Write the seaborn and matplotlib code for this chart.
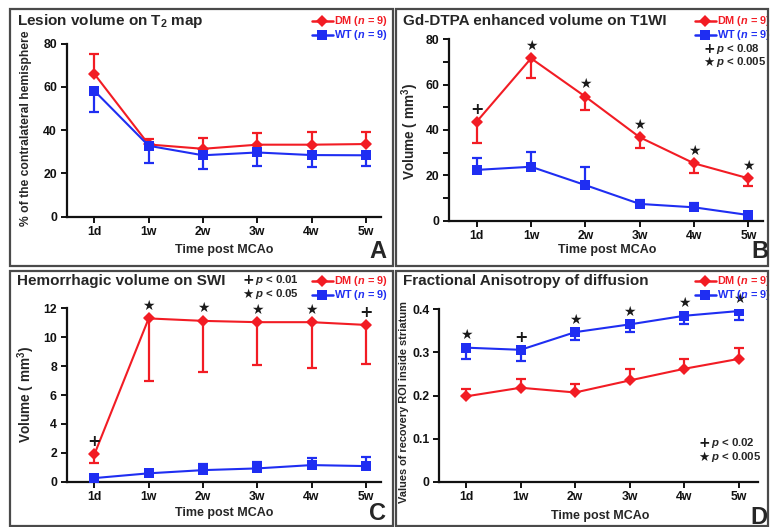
import numpy as np
import pandas as pd
import matplotlib
matplotlib.use("Agg")
import matplotlib.pyplot as plt
import seaborn as sns
from matplotlib.patches import Rectangle
from matplotlib.lines import Line2D

# Style
sns.set_style("ticks")
plt.rcParams["font.family"] = ["Liberation Sans", "DejaVu Sans"]
plt.rcParams["font.weight"] = "bold"
plt.rcParams["mathtext.fontset"] = "custom"
plt.rcParams["mathtext.rm"] = "Liberation Sans:bold"
plt.rcParams["mathtext.it"] = "Liberation Sans:italic:bold"
plt.rcParams["mathtext.bf"] = "Liberation Sans:bold"

RED = "#f21c24"
BLUE = "#1f2ef2"

# Data
time_labels = ["1d", "1w", "2w", "3w", "4w", "5w"]

# A: lesion volume on T2 map (% of contralateral hemisphere)
t2_dm = [66.0, 33.4, 31.4, 33.3, 33.3, 33.6]
t2_dm_err = [9.4, 2.6, 5.0, 5.5, 5.8, 5.4]      # drawn upward
t2_wt = [58.2, 32.8, 28.4, 29.7, 28.5, 28.4]
t2_wt_err = [9.8, 7.8, 6.2, 6.1, 5.4, 4.8]      # drawn downward

# B: Gd-DTPA enhanced volume (mm3)
gd_dm = [43.7, 71.6, 54.7, 36.8, 25.3, 18.7]
gd_dm_err = [9.6, 8.6, 5.9, 4.9, 4.4, 3.4]      # downward
gd_wt = [22.4, 23.8, 15.7, 7.4, 5.9, 2.5]
gd_wt_err = [5.4, 6.4, 7.8, 1.7, 1.8, 1.0]      # upward
gd_sig = ["+", "*", "*", "*", "*", "*"]

# C: hemorrhagic volume on SWI (mm3)
swi_dm = [1.89, 11.3, 11.13, 11.04, 11.04, 10.85]
swi_dm_err = [0.57, 4.3, 3.56, 2.96, 3.19, 2.72]  # downward
swi_wt = [0.25, 0.58, 0.80, 0.92, 1.15, 1.08]
swi_wt_err = [0.12, 0.18, 0.42, 0.42, 0.47, 0.61]  # upward
swi_sig = ["+", "*", "*", "*", "*", "+"]

# D: fractional anisotropy
fa_dm = [0.198, 0.218, 0.207, 0.235, 0.262, 0.285]
fa_dm_err = [0.018, 0.021, 0.020, 0.027, 0.022, 0.026]  # upward
fa_wt = [0.311, 0.306, 0.347, 0.365, 0.385, 0.396]
fa_wt_err = [0.026, 0.026, 0.019, 0.018, 0.020, 0.021]  # downward
fa_sig = ["*", "+", "*", "*", "*", "*"]

W, H = 770, 527
fig = plt.figure(figsize=(W / 100, H / 100), dpi=100)


def px_axes(left, right, bottom, top):
    return fig.add_axes([left / W, 1 - bottom / H, (right - left) / W, (bottom - top) / H])


def fig_text(x, y, s, **kw):
    fig.text(x / W, 1 - y / H, s, **kw)


def p_note(x, y, sym, level):
    # significance key: symbol (DejaVu has the star) + italic p text
    fig_text(x + 4, y, "\u2605" if sym == "*" else "+", fontsize=9 if sym == "*" else 10,
             fontweight="bold", family=["DejaVu Sans"], ha="center", va="center", color="#1a1a1a")
    fig_text(x + 11, y, "$p$ < " + level, fontsize=8.2, fontweight="bold", va="center")


# panel frames
for (l, t, r, b) in [(10, 9, 393, 266), (396, 9, 768, 266), (10, 271, 393, 526), (396, 271, 768, 526)]:
    fig.patches.append(Rectangle((l / W, 1 - b / H), (r - l) / W, (b - t) / H, transform=fig.transFigure,
                                 fill=False, edgecolor="#4a4a4a", linewidth=1.6))


def draw_panel(ax, dm, dm_err, dm_up, wt, wt_err, wt_up, ylim, yticks, ylabels, xlim,
               sig=None, sig_series=None):
    x = np.arange(len(time_labels))
    df = pd.DataFrame({
        "x": np.concatenate([x, x]),
        "v": list(dm) + list(wt),
        "group": ["DM"] * len(dm) + ["WT"] * len(wt),
    })
    for vals, err, up, col in [(dm, dm_err, dm_up, RED), (wt, wt_err, wt_up, BLUE)]:
        zeros = np.zeros(len(err))
        yerr = [zeros, err] if up else [err, zeros]
        ax.errorbar(x, vals, yerr=yerr, fmt="none", ecolor=col, elinewidth=1.6,
                    capsize=3.5, capthick=1.6, zorder=2)
    sns.lineplot(data=df, x="x", y="v", hue="group", style="group",
                 palette={"DM": RED, "WT": BLUE}, markers={"DM": "D", "WT": "s"},
                 dashes=False, markersize=6.5, linewidth=1.5, markeredgewidth=0,
                 legend=False, ax=ax, zorder=3)
    if sig is not None:
        for i, s in enumerate(sig):
            txt = "\u2605" if s == "*" else "+"
            ax.annotate(txt, (i, sig_series[i]), xytext=(0, 9), textcoords="offset points",
                        ha="center", va="center", fontsize=10 if s == "*" else 11.5,
                        fontweight="bold", color="#1a1a1a",
                        family=["DejaVu Sans"])
    ax.set_xlim(*xlim)
    ax.set_ylim(*ylim)
    ax.set_xticks(x)
    ax.set_xticklabels(time_labels)
    ax.set_yticks(yticks)
    ax.set_yticklabels(ylabels)
    ax.set_xlabel("")
    ax.set_ylabel("")
    sns.despine(ax=ax)
    for sp in ["left", "bottom"]:
        ax.spines[sp].set_linewidth(1.6)
        ax.spines[sp].set_color("#111111")
    ax.tick_params(axis="both", length=4, width=1.4, labelsize=8.8, colors="#111111", pad=3)
    for lab in ax.get_xticklabels() + ax.get_yticklabels():
        lab.set_fontweight("bold")
    ax.patch.set_alpha(0)


def draw_legend(ax, x_right, y_top):
    handles = [
        Line2D([], [], color=RED, marker="D", markersize=6.5, linewidth=1.8, markeredgewidth=0),
        Line2D([], [], color=BLUE, marker="s", markersize=6.5, linewidth=1.8, markeredgewidth=0),
    ]
    leg = ax.legend(handles, ["DM ($n$ = 9)", "WT ($n$ = 9)"], loc="upper right",
                    bbox_to_anchor=(x_right / W, 1 - y_top / H), bbox_transform=fig.transFigure,
                    frameon=False, handlelength=1.9, handleheight=0.5, handletextpad=0.15,
                    labelspacing=0.0, borderpad=0, borderaxespad=0, labelcolor="linecolor",
                    prop={"size": 7.8, "weight": "bold"})
    return leg


# Panel A
axA = px_axes(66.7, 381, 216.7, 43.7)
draw_panel(axA, t2_dm, t2_dm_err, True, t2_wt, t2_wt_err, False,
           (0, 80), [0, 20, 40, 60, 80], ["0", "20", "40", "60", "80"], (-0.51, 5.28))
draw_legend(axA, 388, 14)
fig_text(17, 21, "Lesion volume on T$_2$ map", fontsize=11, fontweight="bold", va="center")
fig_text(26, 128, "% of the contralateral hemisphere", fontsize=8.7, fontweight="bold",
         rotation=90, ha="center", va="center")
fig_text(224, 250, "Time post MCAo", fontsize=9, fontweight="bold", ha="center", va="center")
fig_text(378, 252, "A", fontsize=17, ha="center", va="center")

# Panel B
axB = px_axes(449.3, 763, 220.7, 39.3)
draw_panel(axB, gd_dm, gd_dm_err, False, gd_wt, gd_wt_err, True,
           (0, 80), list(range(0, 81, 10)),
           ["0", "", "20", "", "40", "", "60", "", "80"], (-0.505, 5.27),
           sig=gd_sig, sig_series=gd_dm)
draw_legend(axB, 771, 14)
fig_text(403, 21, "Gd-DTPA enhanced volume on T1WI", fontsize=11, fontweight="bold", va="center")
fig_text(410, 131, "Volume ( mm$^3$)", fontsize=9.8, fontweight="bold",
         rotation=90, ha="center", va="center")
fig_text(607, 250, "Time post MCAo", fontsize=9, fontweight="bold", ha="center", va="center")
fig_text(760, 252, "B", fontsize=17, ha="center", va="center")
p_note(705, 49, "+", "0.08")
p_note(705, 62, "*", "0.005")

# Panel C
axC = px_axes(66.7, 381, 481.7, 308.3)
draw_panel(axC, swi_dm, swi_dm_err, False, swi_wt, swi_wt_err, True,
           (0, 12), list(range(0, 13, 2)), [str(v) for v in range(0, 13, 2)], (-0.51, 5.28),
           sig=swi_sig, sig_series=swi_dm)
draw_legend(axC, 388, 274)
fig_text(17, 281, "Hemorrhagic volume on SWI", fontsize=11, fontweight="bold", va="center")
fig_text(26, 394, "Volume ( mm$^3$)", fontsize=9.8, fontweight="bold",
         rotation=90, ha="center", va="center")
fig_text(224, 513, "Time post MCAo", fontsize=9, fontweight="bold", ha="center", va="center")
fig_text(378, 514, "C", fontsize=17, ha="center", va="center")
p_note(244, 280, "+", "0.01")
p_note(244, 294, "*", "0.05")

# Panel D
axD = px_axes(439.3, 758, 481.7, 309.3)
draw_panel(axD, fa_dm, fa_dm_err, True, fa_wt, fa_wt_err, False,
           (0, 0.4), [0, 0.1, 0.2, 0.3, 0.4], ["0", "0.1", "0.2", "0.3", "0.4"], (-0.49, 5.35),
           sig=fa_sig, sig_series=fa_wt)
draw_legend(axD, 771, 274)
fig_text(403, 281, "Fractional Anisotropy of diffusion", fontsize=11, fontweight="bold", va="center")
fig_text(404, 402, "Values of recovery ROI inside striatum", fontsize=7.9, fontweight="bold",
         rotation=90, ha="center", va="center")
fig_text(600, 516, "Time post MCAo", fontsize=9, fontweight="bold", ha="center", va="center")
fig_text(759, 517, "D", fontsize=17, ha="center", va="center")
p_note(700, 443, "+", "0.02")
p_note(700, 457, "*", "0.005")

fig.savefig("out.png", dpi=100)
